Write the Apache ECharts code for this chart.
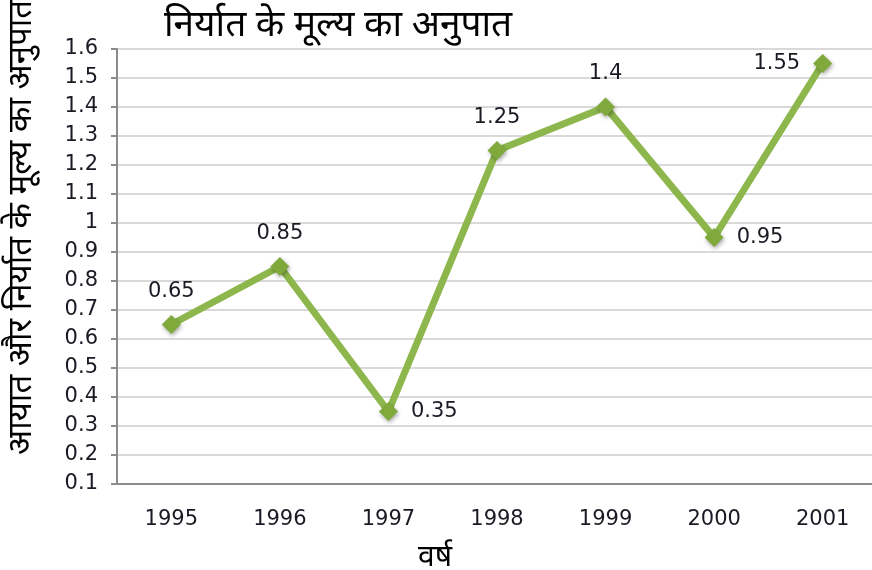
<!DOCTYPE html>
<html>
<head>
<meta charset="utf-8">
<title>आयात और निर्यात के मूल्य का अनुपात</title>
<script src="https://cdn.jsdelivr.net/npm/echarts@6/dist/echarts.min.js"></script>
<style>
  html, body { margin: 0; padding: 0; background: #fff; }
  #chart { width: 872px; height: 570px; }
</style>
</head>
<body>
<div id="chart"></div>
<script>
// वर्ष
const years = ['1995', '1996', '1997', '1998', '1999', '2000', '2001']
// आयात और निर्यात के मूल्य का अनुपात
const ratios = [0.65, 0.85, 0.35, 1.25, 1.4, 0.95, 1.55]
// where each value label sits
const labelSide = ['top', 'top', 'right', 'top', 'top', 'right', 'left']

const hindiFont = '"Noto Sans Devanagari", "Noto Sans", "DejaVu Sans", sans-serif'
const numFont = '"DejaVu Sans", Verdana, sans-serif'

const chart = echarts.init(document.getElementById('chart'))

chart.setOption({
  animation: false,
  backgroundColor: '#fff',
  grid: { left: 117, top: 49, right: -5, bottom: 86, outerBoundsMode: 'none' },
  graphic: [
    {
      type: 'text',
      left: 164,
      top: 11,
      style: { text: 'निर्यात के मूल्य का अनुपात', font: '37px ' + hindiFont, fill: '#000' }
    },
    {
      type: 'text',
      x: 8,
      y: 455,
      rotation: Math.PI / 2,
      style: { text: 'आयात और निर्यात के मूल्य का अनुपात', font: '33px ' + hindiFont, fill: '#000' }
    },
    {
      type: 'text',
      left: 418,
      top: 545,
      style: { text: 'वर्ष', font: '30px ' + hindiFont, fill: '#000' }
    }
  ],
  xAxis: {
    type: 'category',
    data: years,
    axisLine: { lineStyle: { color: '#8c8c8c', width: 2 } },
    axisTick: { alignWithLabel: true, length: 7, lineStyle: { color: '#8c8c8c', width: 2 } },
    axisLabel: { margin: 25, fontFamily: numFont, fontSize: 21, color: '#1a1a24' }
  },
  yAxis: {
    type: 'value',
    min: 0.1,
    max: 1.6,
    interval: 0.1,
    axisLine: { show: true, lineStyle: { color: '#8c8c8c', width: 2 } },
    axisTick: { show: true, length: 6, lineStyle: { color: '#8c8c8c', width: 2 } },
    axisLabel: {
      margin: 19,
      fontFamily: numFont,
      fontSize: 21,
      color: '#1a1a24',
      formatter: v => String(+v.toFixed(1))
    },
    splitLine: { lineStyle: { color: '#d9d9d9', width: 2 } }
  },
  series: [
    {
      type: 'line',
      data: ratios.map((v, i) => ({ value: v, label: { position: labelSide[i] } })),
      symbol: 'diamond',
      symbolSize: 19,
      lineStyle: { color: '#8db74c', width: 7 },
      itemStyle: {
        color: '#7fa93b',
        shadowColor: 'rgba(0,0,0,0.35)',
        shadowBlur: 4,
        shadowOffsetX: 1,
        shadowOffsetY: 2
      },
      label: {
        show: true,
        distance: 13,
        fontFamily: numFont,
        fontSize: 21,
        color: '#1a1a24',
        formatter: p => String(p.value)
      }
    }
  ]
})
</script>
</body>
</html>
